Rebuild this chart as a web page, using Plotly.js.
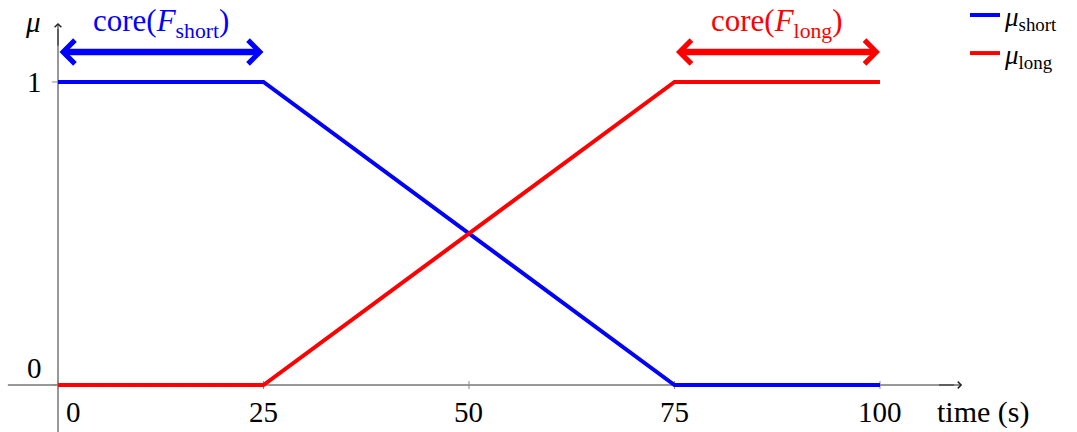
<!DOCTYPE html>
<html>
<head>
<meta charset="utf-8">
<script src="https://cdn.plot.ly/plotly-3.0.1.min.js"></script>
<style>
  html, body { margin: 0; padding: 0; background: #fff; }
  #chart { width: 1077px; height: 432px; }
</style>
</head>
<body>
<div id="chart"></div>
<script>
// Membership functions for the two fuzzy sets over time
const time = [0, 25, 75, 100];
const muShort = [1, 1, 0, 0];
const muLong = [0, 0, 1, 1];

// Axis ticks
const xTicks = [0, 25, 50, 75, 100];
const xTickLabels = ['0', '25', '50', '75', '100'];
const yTicks = [0, 1];
const yTickLabels = ['0', '1'];

// Cores of the two sets (interval where membership is 1)
const coreShort = [0, 25];
const coreLong = [75, 100];

const BLUE = '#0000ff';
const RED = '#ff0000';
const FONT = 'Liberation Serif, Times New Roman, serif';

// Axis extents (the axes cross at the origin and end in arrowheads)
const xAxisFrom = -6.1, xAxisTo = 110;
const yAxisFrom = -0.16, yAxisTo = 1.195;
const coreArrowY = 1.099;
const coreLabelY = 1.195;

const traces = [
  {
    x: time, y: muShort, mode: 'lines', name: '<i>μ</i><sub>short</sub>',
    line: { color: BLUE, width: 4 }, hoverinfo: 'skip'
  },
  {
    x: time, y: muLong, mode: 'lines', name: '<i>μ</i><sub>long</sub>',
    line: { color: RED, width: 4 }, hoverinfo: 'skip'
  }
];

const shapes = [
  // axis lines, kept below the curves
  { type: 'line', layer: 'below', xref: 'x', yref: 'y', x0: xAxisFrom, x1: xAxisTo - 1, y0: 0, y1: 0,
    line: { color: '#333', width: 1 } },
  { type: 'line', layer: 'below', xref: 'x', yref: 'y', x0: 0, x1: 0, y0: yAxisFrom, y1: yAxisTo - 0.02,
    line: { color: '#333', width: 1 } }
];
xTicks.forEach(v => shapes.push({
  type: 'line', layer: 'below', xref: 'x', yref: 'y', x0: v, x1: v, y0: -0.013, y1: 0.013,
  line: { color: '#888', width: 1 }
}));
yTicks.forEach(v => shapes.push({
  type: 'line', layer: 'below', xref: 'x', yref: 'y', x0: -0.75, x1: 0.75, y0: v, y1: v,
  line: { color: '#888', width: 1 }
}));

const annotations = [];
// axis arrowheads
annotations.push({
  x: xAxisTo, y: 0, ax: xAxisTo - 3, ay: 0, xref: 'x', yref: 'y', axref: 'x', ayref: 'y',
  text: '', showarrow: true, arrowhead: 4, arrowsize: 1.3, arrowwidth: 1, arrowcolor: '#222'
});
annotations.push({
  x: 0, y: yAxisTo, ax: 0, ay: yAxisTo - 0.08, xref: 'x', yref: 'y', axref: 'x', ayref: 'y',
  text: '', showarrow: true, arrowhead: 4, arrowsize: 1.3, arrowwidth: 1, arrowcolor: '#222'
});
// tick labels
xTicks.forEach((v, i) => annotations.push({
  x: v, y: 0, xref: 'x', yref: 'y', text: xTickLabels[i], showarrow: false,
  xanchor: 'center', yanchor: 'middle', yshift: -27, xshift: v === 0 ? 15 : 0,
  font: { family: FONT, size: 29, color: '#000' }
}));
yTicks.forEach((v, i) => annotations.push({
  x: 0, y: v, xref: 'x', yref: 'y', text: yTickLabels[i], showarrow: false,
  xanchor: 'center', yanchor: 'middle', xshift: -24, yshift: v === 0 ? 17 : 0,
  font: { family: FONT, size: 29, color: '#000' }
}));
// axis titles
annotations.push({
  x: xAxisTo, y: 0, xref: 'x', yref: 'y', text: 'time (s)', showarrow: false,
  xanchor: 'center', yanchor: 'middle', xshift: 21, yshift: -27,
  font: { family: FONT, size: 30, color: '#000' }
});
annotations.push({
  x: 0, y: yAxisTo, xref: 'x', yref: 'y', text: '<i>μ</i>', showarrow: false,
  xanchor: 'center', yanchor: 'middle', xshift: -25, yshift: 1,
  font: { family: FONT, size: 29, color: '#000' }
});
// core double arrows and their labels
[[coreShort, BLUE, 'core(<i>F</i><sub>short</sub>)'],
 [coreLong, RED, 'core(<i>F</i><sub>long</sub>)']].forEach(([core, color, label]) => {
  annotations.push({
    x: core[1], y: coreArrowY, ax: core[0], ay: coreArrowY,
    xref: 'x', yref: 'y', axref: 'x', ayref: 'y', text: '', showarrow: true,
    arrowside: 'end+start', arrowhead: 4, startarrowhead: 4,
    arrowsize: 0.7, startarrowsize: 0.7, arrowwidth: 6.5, arrowcolor: color
  });
  annotations.push({
    x: (core[0] + core[1]) / 2, y: coreLabelY, xref: 'x', yref: 'y', text: label,
    showarrow: false, xanchor: 'center', yanchor: 'middle',
    font: { family: FONT, size: 31, color: color }
  });
});

const layout = {
  width: 1077, height: 432,
  margin: { l: 0, r: 0, t: 0, b: 0, autoexpand: false },
  paper_bgcolor: '#fff', plot_bgcolor: '#fff',
  xaxis: { range: [-7.056, 123.97], visible: false, fixedrange: true },
  yaxis: { range: [-0.1551, 1.2706], visible: false, fixedrange: true },
  showlegend: true,
  legend: {
    x: 0.896, y: 1.021, xanchor: 'left', yanchor: 'top',
    bgcolor: 'rgba(0,0,0,0)', borderwidth: 0,
    font: { family: FONT, size: 27, color: '#000' },
    tracegroupgap: 0
  },
  shapes: shapes,
  annotations: annotations
};

Plotly.newPlot('chart', traces, layout, { staticPlot: true, displayModeBar: false });
</script>
</body>
</html>
